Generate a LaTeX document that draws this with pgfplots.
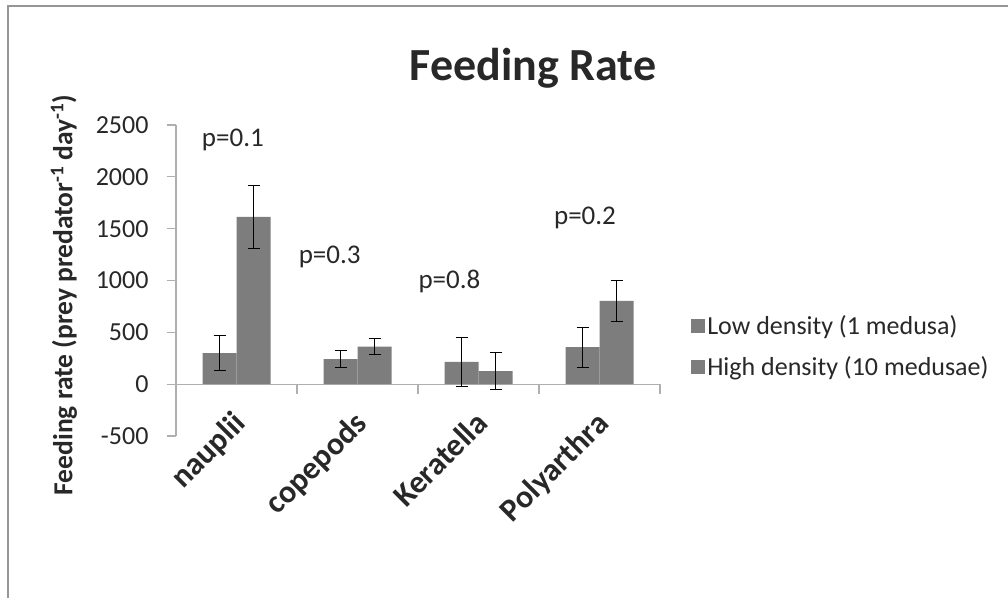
\documentclass[border=0pt]{standalone}
\usepackage{pgfplots}
\pgfplotsset{compat=1.18}
\usepackage{fontspec}
\setmainfont{Carlito}
\definecolor{bargray}{RGB}{125,125,125}
\definecolor{axgray}{RGB}{175,175,175}
\definecolor{txt}{RGB}{40,40,40}
\begin{document}
\begin{tikzpicture}
\useasboundingbox (0,0) rectangle (1008pt,598pt);
\fill[white] (0,0) rectangle (1008pt,598pt);
\draw[line width=1.5pt, color={rgb,255:red,150;green,150;blue,150}] (8pt,0) -- (8pt,592pt) -- (1008pt,592pt);
\begin{axis}[
  at={(176pt,162pt)}, anchor=south west,
  scale only axis, width=484pt, height=311pt,
  xmin=-0.5, xmax=3.5, ymin=-500, ymax=2500,
  axis x line*=middle, axis y line*=left,
  axis line style={axgray, line width=1.2pt},
  ytick={-500,0,500,1000,1500,2000,2500},
  xtick={0,1,2,3},
  xticklabels={nauplii,copepods,Keratella,Polyarthra},
  xtick style={draw=none},
  ytick style={axgray, line width=1.2pt},
  tick align=outside, major tick length=9pt,
  /pgf/number format/assume math mode=true,
  /pgf/number format/1000 sep={},
  yticklabel style={font=\fontsize{26}{30}\selectfont, text=txt, xshift=-15pt},
  xticklabel style={font=\bfseries\fontsize{32}{36}\selectfont, text=txt, xshift=-5pt, yshift=-16pt, rotate=45, anchor=north east, inner sep=0pt},
  ybar=0pt, bar width=34pt,
  legend style={at={(1.058,0.288)}, anchor=west, draw=none, fill=none,
    font=\fontsize{26}{30}\selectfont, text=txt, row sep=16pt,
    /tikz/every even column/.append style={column sep=4pt}},
  legend cell align=left,
  legend image code/.code={\fill[bargray] (0pt,-7pt) rectangle (14pt,7pt);},
  clip=false,
]
\addplot[fill=bargray, draw=none, bar shift=-17pt,
  error bars/.cd, y dir=both, y explicit,
  error bar style={black, line width=1pt},
  error mark options={rotate=90, mark size=6pt, black, line width=1pt}]
  coordinates {(0,300) +- (0,172) (1,242) +- (0,86) (2,215) +- (0,233) (3,358) +- (0,193)};
\addplot[fill=bargray, draw=none, bar shift=17pt,
  error bars/.cd, y dir=both, y explicit,
  error bar style={black, line width=1pt},
  error mark options={rotate=90, mark size=6pt, black, line width=1pt}]
  coordinates {(0,1613) +- (0,307) (1,362) +- (0,75) (2,125) +- (0,177) (3,803) +- (0,197)};
\legend{Low density (1 medusa), High density (10 medusae)}
\draw[axgray, line width=1.2pt] (axis cs:0.5,0) -- ([yshift=-10pt]axis cs:0.5,0);
\draw[axgray, line width=1.2pt] (axis cs:1.5,0) -- ([yshift=-10pt]axis cs:1.5,0);
\draw[axgray, line width=1.2pt] (axis cs:2.5,0) -- ([yshift=-10pt]axis cs:2.5,0);
\draw[axgray, line width=1.2pt] (axis cs:3.5,0) -- ([yshift=-10pt]axis cs:3.5,0);
\node[font=\fontsize{27}{30}\selectfont, text=txt] at (axis cs:-0.03,2355) {p=0.1};
\node[font=\fontsize{27}{30}\selectfont, text=txt] at (axis cs:0.77,1228) {p=0.3};
\node[font=\fontsize{27}{30}\selectfont, text=txt] at (axis cs:1.76,987) {p=0.8};
\node[font=\fontsize{27}{30}\selectfont, text=txt] at (axis cs:2.88,1608) {p=0.2};
\end{axis}
\node[font=\bfseries\fontsize{46}{50}\selectfont, text=txt] at (533pt,530pt) {Feeding Rate};
\node[font=\bfseries\fontsize{27.5}{30}\selectfont, text=txt, rotate=90] at (64pt,303pt) {Feeding rate (prey predator\textsuperscript{-1} day\textsuperscript{-1})};
\end{tikzpicture}
\end{document}
